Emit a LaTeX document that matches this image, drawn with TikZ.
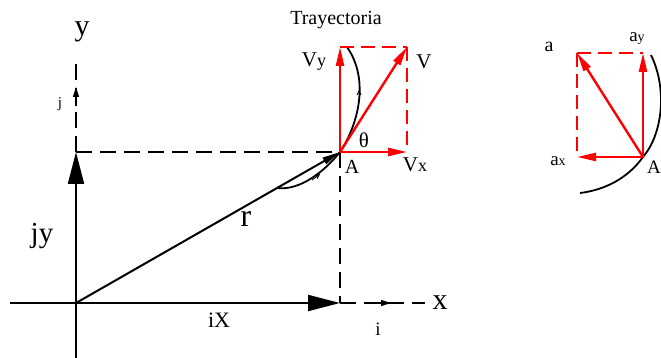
\documentclass[tikz,border=0pt]{standalone}
\usepackage{fontspec}
\setmainfont{Liberation Serif}
\usetikzlibrary{arrows.meta}

\newcommand{\fsz}[1]{\fontsize{#1}{#1}\selectfont}

\begin{document}
\begin{tikzpicture}[x=1pt,y=-1pt,
  thickline/.style={line width=2pt},
  guide/.style={line width=2pt,dash pattern=on 16pt off 8pt},
  bigtip/.style={-{Triangle[length=32pt,width=16pt]}},
  redvec/.style={red,line width=2.4pt,-{Triangle[length=19pt,width=8pt]}},
  redguide/.style={red,line width=2.4pt,dash pattern=on 14pt off 7pt},
  lbl/.style={inner sep=0pt}]
  \useasboundingbox (0,0) rectangle (661,358);
  % main points
  \coordinate (O) at (76,303);
  \coordinate (A) at (340,152);
  \coordinate (Ax) at (340,303);
  \coordinate (Ay) at (76,152);
  \coordinate (Xl) at (10,303);
  \coordinate (Xr) at (425,303);
  \coordinate (Yb) at (76,358);
  \coordinate (Yt) at (76,58);
  % axes and components
  \draw[thickline] (Xl) -- (O);
  \draw[thickline] (Yb) -- (O);
  \draw[thickline,bigtip] (O) -- (Ax);
  \draw[thickline,bigtip] (O) -- (Ay);
  \draw[guide] (Ax) -- (Xr);
  \draw[guide] (Ay) -- (Yt);
  \draw[guide] (Ay) -- (A);
  \draw[guide] (A) -- (Ax);
  % unit vectors
  \draw[line width=1.4pt,-{Triangle[length=10pt,width=6pt]}] (372,303) -- (391,303);
  \draw[line width=1.4pt,-{Triangle[length=10pt,width=6pt]}] (76,106) -- (76,87);
  % position vector
  \draw[thickline,-{Triangle[length=18pt,width=7pt]}] (O) -- (A);
  % trajectory
  \draw[line width=1.8pt] (277,188) .. controls (300,191) and (325,171) .. (A)
    .. controls (358,125) and (370,80) .. (347,47);
  \draw[line width=0.9pt,-{Straight Barb[length=4pt,width=4pt]}] (312,180) -- (320,174);
  \draw[line width=0.9pt,-{Straight Barb[length=4pt,width=4pt]}] (359,98) -- (359,90);
  % velocity
  \coordinate (Vx) at (407,152);
  \coordinate (Vy) at (340,47);
  \coordinate (V) at (407,47);
  \draw[redguide] (Vy) -- (V);
  \draw[redguide] (V) -- (Vx);
  \draw[redvec] (A) -- (Vx);
  \draw[redvec] (A) -- (Vy);
  \draw[redvec] (A) -- (V);
  % acceleration
  \coordinate (B) at (643,157);
  \coordinate (Bx) at (577,157);
  \coordinate (By) at (643,53);
  \coordinate (Ba) at (577,53);
  \draw[line width=1.8pt] (651,55) .. controls (668,90) and (662,135) .. (B)
    .. controls (628,178) and (605,190) .. (580,193);
  \draw[redguide] (Ba) -- (By);
  \draw[redguide] (Ba) -- (Bx);
  \draw[redvec] (B) -- (Bx);
  \draw[redvec] (B) -- (By);
  \draw[redvec] (B) -- (Ba);
  % labels
  \node[lbl] (ly) at (82,32) {\fsz{30}y};
  \node[lbl] (lx) at (440,303) {\fsz{30}x};
  \node[lbl] (lj) at (60,104) {\fsz{15}j};
  \node[lbl] (li) at (378,329) {\fsz{19}i};
  \node[lbl] (ljy) at (42,236) {\fsz{29}jy};
  \node[lbl] (lix) at (219,320) {\fsz{22}iX};
  \node[lbl] (lr) at (246,219) {\fsz{32}r};
  \node[lbl] (ltr) at (336,20) {\fsz{20}Trayectoria};
  \node[lbl] (lvy) at (314,62) {\fsz{21}V{\fsz{18}y}};
  \node[lbl] (lv) at (424,62) {\fsz{21}V};
  \node[lbl] (lth) at (364,140) {\fsz{21}θ};
  \node[lbl] (lA) at (352,167) {\fsz{20}A};
  \node[lbl] (lvx) at (415,165) {\fsz{21}V{\fsz{18}x}};
  \node[lbl] (la) at (549,47) {\fsz{20}a};
  \node[lbl] (lay) at (637,39) {\fsz{19}a{\fsz{14}y}};
  \node[lbl] (lax) at (558,161) {\fsz{19}a{\fsz{14}x}};
  \node[lbl,anchor=east] (lB) at (661,167) {\fsz{19}A};
\end{tikzpicture}
\end{document}
